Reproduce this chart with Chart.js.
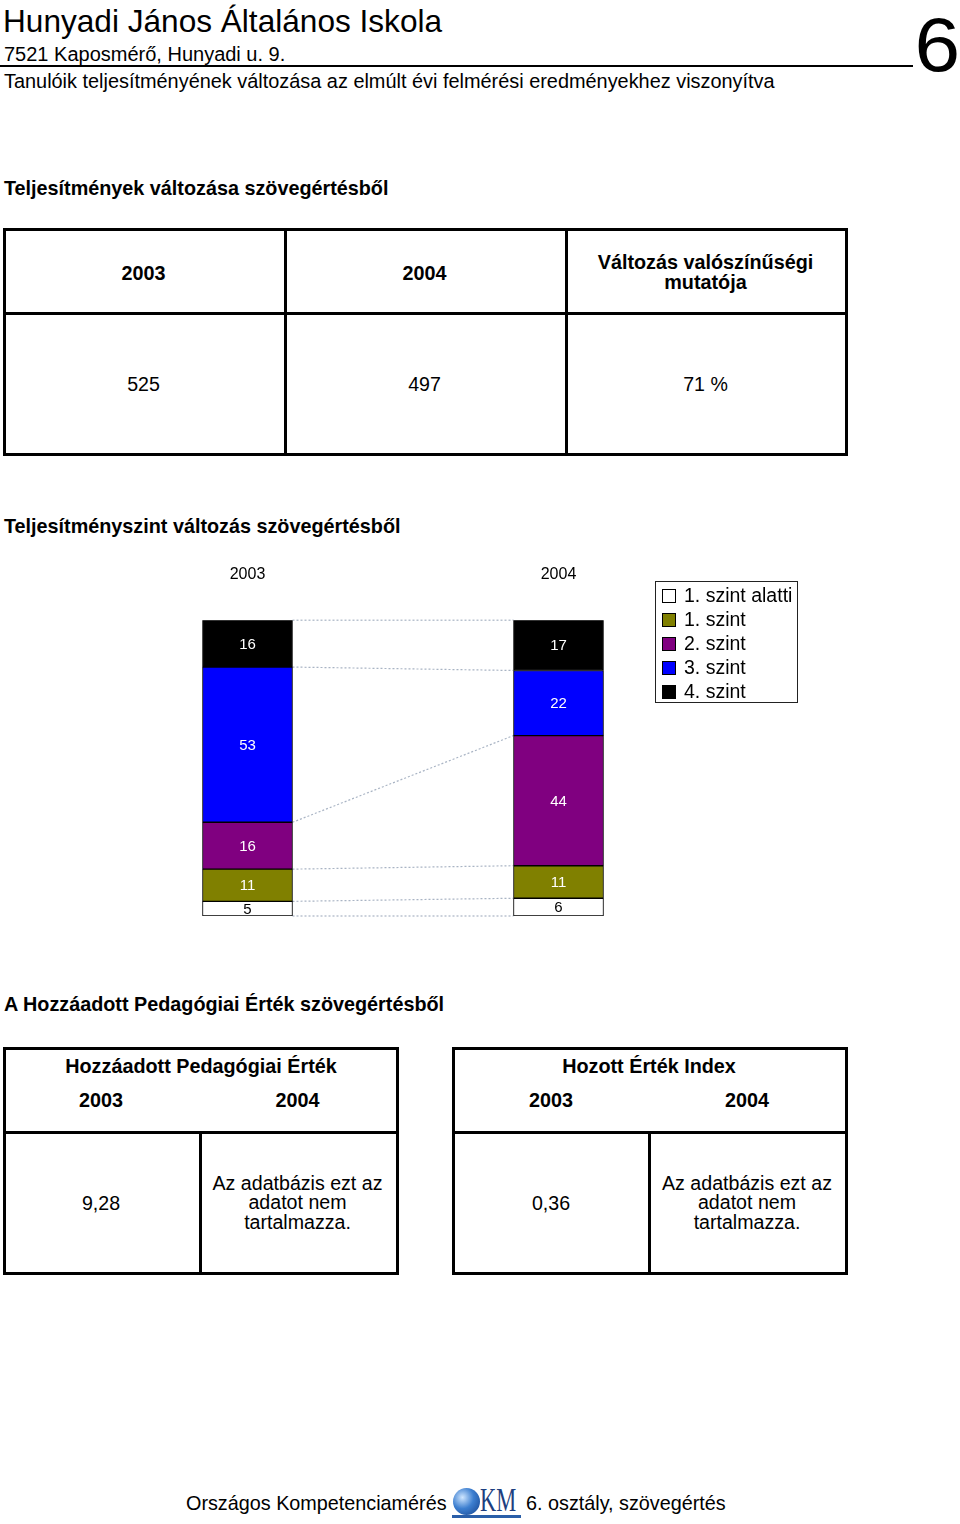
<!DOCTYPE html>
<html lang="hu">
<head>
  <meta charset="UTF-8">
  <title>Teljesítményszint változás szövegértésből</title>
  <script src="https://cdn.jsdelivr.net/npm/chart.js"></script>
  <style>
    body {
      margin: 0;
      width: 960px;
      height: 1524px;
      position: relative;
      background: #fff;
      font-family: 'Liberation Sans', Arial, sans-serif;
      color: #000;
      overflow: hidden;
    }
    .abs { position: absolute; white-space: nowrap; }
    .sect { font-weight: bold; font-size: 19.8px; left: 4px; }
    .box {
      position: absolute;
      border: 3px solid #000;
      box-sizing: border-box;
    }
    .cell {
      position: absolute;
      display: flex;
      align-items: center;
      justify-content: center;
      text-align: center;
      font-size: 19.6px;
      box-sizing: border-box;
    }
    .hdr { font-weight: bold; font-size: 19.8px; }
    .vline { position: absolute; width: 3px; background: #000; }
    .hline { position: absolute; height: 3px; background: #000; }
    #legend {
      position: absolute;
      left: 655px; top: 581px;
      width: 143px; height: 122px;
      border: 1.5px solid #222;
      box-sizing: border-box;
      font-size: 19.5px;
    }
    #legend .row { position: absolute; left: 6px; height: 24px; line-height: 24px; }
    #legend .sw {
      display: inline-block;
      width: 12px; height: 12px;
      border: 1.5px solid #000;
      vertical-align: -1px;
      margin-right: 8px;
    }
    #chartBox { position: absolute; left: 92px; top: 529px; width: 622px; height: 391px; }
  </style>
</head>
<body>
  <div class="abs" style="left:3px; top:3px; font-size:31.6px;">Hunyadi János Általános Iskola</div>
  <div class="abs" style="left:4px; top:43px; font-size:20px;">7521 Kaposmérő, Hunyadi u. 9.</div>
  <div class="abs" style="left:0; top:65px; width:913px; height:2px; background:#000;"></div>
  <div class="abs" style="left:4px; top:70px; font-size:19.9px;">Tanulóik teljesítményének változása az elmúlt évi felmérési eredményekhez viszonyítva</div>
  <div class="abs" style="right:0; top:1px; font-size:76px; transform:scaleX(1.08); transform-origin:right;">6</div>

  <div class="abs sect" style="top:177px;">Teljesítmények változása szövegértésből</div>
  <div class="box" style="left:3px; top:228px; width:845px; height:228px;"></div>
  <div class="hline" style="left:3px; top:312px; width:845px;"></div>
  <div class="vline" style="left:284px; top:228px; height:228px;"></div>
  <div class="vline" style="left:565px; top:228px; height:228px;"></div>
  <div class="cell hdr" style="left:3px; top:233px; width:281px; height:81px;">2003</div>
  <div class="cell hdr" style="left:284px; top:233px; width:281px; height:81px;">2004</div>
  <div class="cell hdr" style="left:565px; top:231px; width:281px; height:81px; line-height:20px;">Változás valószínűségi<br>mutatója</div>
  <div class="cell" style="left:3px; top:315px; width:281px; height:138px;">525</div>
  <div class="cell" style="left:284px; top:315px; width:281px; height:138px;">497</div>
  <div class="cell" style="left:565px; top:315px; width:281px; height:138px;">71 %</div>

  <div class="abs sect" style="top:515px;">Teljesítményszint változás szövegértésből</div>
  <div id="chartBox"><canvas id="chartCanvas"></canvas></div>
  <div id="legend"></div>

  <div class="abs sect" style="top:993px;">A Hozzáadott Pedagógiai Érték szövegértésből</div>

  <div class="box" style="left:3px; top:1047px; width:396px; height:228px;"></div>
  <div class="hline" style="left:3px; top:1131px; width:396px;"></div>
  <div class="vline" style="left:199px; top:1131px; height:144px;"></div>
  <div class="cell hdr" style="left:3px; top:1053px; width:396px; height:26px;">Hozzáadott Pedagógiai Érték</div>
  <div class="cell hdr" style="left:3px; top:1087px; width:196px; height:26px;">2003</div>
  <div class="cell hdr" style="left:199px; top:1087px; width:197px; height:26px;">2004</div>
  <div class="cell" style="left:3px; top:1134px; width:196px; height:138px;">9,28</div>
  <div class="cell" style="left:199px; top:1134px; width:197px; height:138px; line-height:19.5px;">Az adatbázis ezt az<br>adatot nem<br>tartalmazza.</div>

  <div class="box" style="left:452px; top:1047px; width:396px; height:228px;"></div>
  <div class="hline" style="left:452px; top:1131px; width:396px;"></div>
  <div class="vline" style="left:648px; top:1131px; height:144px;"></div>
  <div class="cell hdr" style="left:452px; top:1053px; width:394px; height:26px;">Hozott Érték Index</div>
  <div class="cell hdr" style="left:452px; top:1087px; width:198px; height:26px;">2003</div>
  <div class="cell hdr" style="left:648px; top:1087px; width:198px; height:26px;">2004</div>
  <div class="cell" style="left:452px; top:1134px; width:198px; height:138px;">0,36</div>
  <div class="cell" style="left:648px; top:1134px; width:198px; height:138px; line-height:19.5px;">Az adatbázis ezt az<br>adatot nem<br>tartalmazza.</div>

  <div class="abs" style="left:186px; top:1492px; font-size:19.8px;">Országos Kompetenciamérés</div>
  <div class="abs" style="left:453px; top:1488px; width:27px; height:27px; border-radius:50%;
       background: radial-gradient(circle at 35% 35%, #cfe6ff 0%, #3d7fd0 45%, #123f8a 100%);"></div>
  <div class="abs" style="left:480px; top:1481px; font-family:'Liberation Serif', serif; font-size:34px; color:#1d3f80; transform:scaleX(0.66); transform-origin:left;">KM</div>
  <div class="abs" style="left:452px; top:1515px; width:69px; height:3px; background:#2a5ea8;"></div>
  <div class="abs" style="left:526px; top:1492px; font-size:19.8px;">6. osztály, szövegértés</div>

  <script>
    const years = ['2003', '2004'];
    const levels = ['1. szint alatti', '1. szint', '2. szint', '3. szint', '4. szint'];
    // percentages, bottom to top
    const belowLevel1 = [5, 6];
    const level1 = [11, 11];
    const level2 = [16, 44];
    const level3 = [53, 22];
    const level4 = [16, 17];
    const fillColors = ['#ffffff', '#808000', '#800080', '#0000ff', '#000000'];
    const textColors = ['#000000', '#ffffff', '#ffffff', '#ffffff', '#ffffff'];

    const series = [belowLevel1, level1, level2, level3, level4];
    // the original is a 100% stacked chart, so scale each year to 100
    const totals = years.map((y, i) => series.reduce((s, arr) => s + arr[i], 0));

    Chart.defaults.font.family = "'Liberation Sans', Arial, sans-serif";

    const connectors = {
      id: 'connectors',
      beforeDatasetsDraw(chart) {
        const ctx = chart.ctx;
        const yScale = chart.scales.y;
        const first = chart.getDatasetMeta(0).data;
        const xa = first[0].x + first[0].width / 2;
        const xb = first[1].x - first[1].width / 2;
        ctx.save();
        ctx.strokeStyle = '#a9b4c4';
        ctx.lineWidth = 1.2;
        ctx.setLineDash([2, 2]);
        let cumA = 0, cumB = 0;
        for (let k = 0; k <= series.length; k++) {
          const ya = yScale.getPixelForValue(cumA);
          const yb = yScale.getPixelForValue(cumB);
          ctx.beginPath();
          ctx.moveTo(xa, ya);
          ctx.lineTo(xb, yb);
          ctx.stroke();
          if (k < series.length) {
            cumA += series[k][0] / totals[0] * 100;
            cumB += series[k][1] / totals[1] * 100;
          }
        }
        ctx.restore();
      }
    };

    const valueLabels = {
      id: 'valueLabels',
      afterDatasetsDraw(chart) {
        const ctx = chart.ctx;
        ctx.save();
        ctx.font = "15px 'Liberation Sans', Arial, sans-serif";
        ctx.textAlign = 'center';
        ctx.textBaseline = 'middle';
        chart.data.datasets.forEach((ds, i) => {
          chart.getDatasetMeta(i).data.forEach((bar, j) => {
            ctx.fillStyle = textColors[i];
            ctx.fillText(series[i][j], bar.x, (bar.y + bar.base) / 2 + 1);
          });
        });
        ctx.restore();
      }
    };

    new Chart(document.getElementById('chartCanvas'), {
      type: 'bar',
      data: {
        labels: years,
        datasets: series.map((arr, i) => ({
          label: levels[i],
          data: arr.map((v, j) => v / totals[j] * 100),
          backgroundColor: fillColors[i],
          borderColor: '#000000',
          borderWidth: 1,
          borderSkipped: false,
          barThickness: 90
        }))
      },
      options: {
        responsive: true,
        maintainAspectRatio: false,
        animation: false,
        layout: { padding: { top: 0, bottom: 4, left: 0, right: 0 } },
        plugins: {
          legend: { display: false },
          tooltip: { enabled: false }
        },
        scales: {
          x: {
            position: 'top',
            stacked: true,
            grid: { display: false, drawTicks: false },
            border: { display: false },
            ticks: { color: '#000', font: { size: 16 }, padding: 36 }
          },
          y: {
            stacked: true,
            display: false,
            min: 0,
            max: 100
          }
        }
      },
      plugins: [connectors, valueLabels]
    });

    // legend box, top entry first like the original
    const legend = document.getElementById('legend');
    levels.forEach((name, i) => {
      const row = document.createElement('div');
      row.className = 'row';
      row.style.top = (1 + i * 24) + 'px';
      row.innerHTML = `<span class="sw" style="background:${fillColors[i]}"></span>${name}`;
      legend.appendChild(row);
    });
  </script>
</body>
</html>
